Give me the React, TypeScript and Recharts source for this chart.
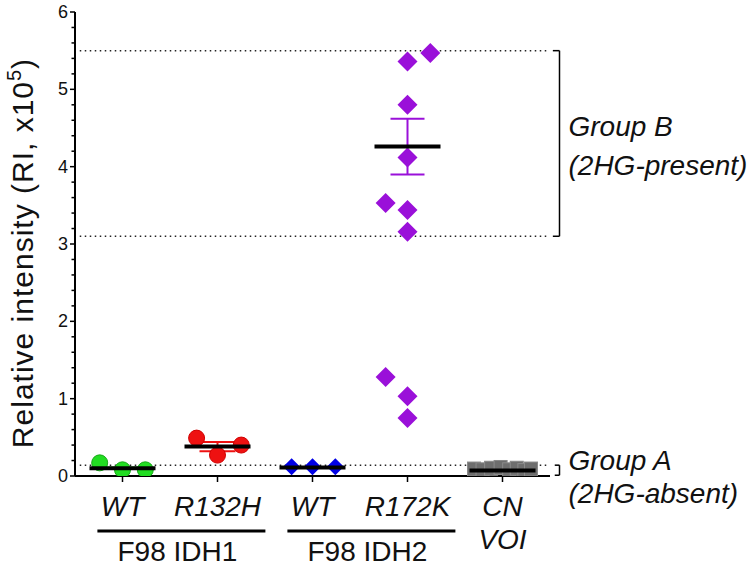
import { ScatterChart, Scatter, XAxis, YAxis, ReferenceLine, ErrorBar } from 'recharts'

const FONT = '"Liberation Sans", Arial, sans-serif'

// x categories (index = x position), "|" splits a label into two lines
const categories = ['WT', 'R132H', 'WT', 'R172K', 'CN|VOI']
const groupLabels = ['F98 IDH1', 'F98 IDH2']
const groupCenters = [0.62, 2.62]

const yTicks = [
  0, 0.2, 0.4, 0.6, 0.8, 1, 1.2, 1.4, 1.6, 1.8, 2, 2.2, 2.4, 2.6, 2.8, 3,
  3.2, 3.4, 3.6, 3.8, 4, 4.2, 4.4, 4.6, 4.8, 5, 5.2, 5.4, 5.6, 5.8, 6,
]
const yMajor = [0, 1, 2, 3, 4, 5, 6]

// measured intensities (x10^5) and horizontal scatter offsets
const wt1Values = [0.17, 0.08, 0.08]
const wt1Jitter = [-0.24, 0, 0.24]
const r132hValues = [0.49, 0.27, 0.4]
const r132hJitter = [-0.22, 0, 0.25]
const wt2Values = [0.12, 0.12, 0.12]
const wt2Jitter = [-0.22, 0, 0.24]
const r172kValues = [5.47, 5.36, 4.8, 4.12, 3.53, 3.44, 3.16, 1.28, 1.03, 0.75]
const r172kJitter = [0.24, 0, 0, 0, -0.23, 0, 0, -0.23, 0, 0]
const cnVoiValues = [0.09, 0.08, 0.1, 0.11, 0.08, 0.1, 0.07, 0.09]
const cnVoiJitter = [-0.3, -0.21, -0.12, -0.02, 0.07, 0.15, 0.23, 0.3]

const means = [0.1, 0.38, 0.11, 4.26, 0.07]
const sems = [0.01, 0.06, 0.005, 0.36, 0.01]

// group thresholds
const groupBTop = 5.5
const groupBBottom = 3.1
const groupATop = 0.14
const groupABottom = 0.01

const colors = ['#22dd22', '#ee1111', '#0000e6', '#9a10d9', '#6e6e6e']

const toPoints = (cat: number, values: number[], jitter: number[]) =>
  values.map((v, i) => ({ x: cat + jitter[i], y: v }))

const circleShape = (fill: string, stroke: string) => (p: any) => (
  <circle cx={p.cx} cy={p.cy} r={8} fill={fill} stroke={stroke} strokeWidth={1} />
)
const diamondShape = (fill: string, h: number) => (p: any) => (
  <polygon
    points={`${p.cx},${p.cy - h} ${p.cx + h},${p.cy} ${p.cx},${p.cy + h} ${p.cx - h},${p.cy}`}
    fill={fill}
  />
)
const squareShape = (fill: string) => (p: any) => (
  <rect x={p.cx - 6.5} y={p.cy - 7} width={13} height={14} fill={fill} stroke="#8a8a8a" strokeWidth={1} />
)
const meanShape = (p: any) => (
  <line x1={p.cx - 33} x2={p.cx + 33} y1={p.cy} y2={p.cy} stroke="#000" strokeWidth={4} />
)

const YTick = (props: any) => {
  const { x, y, payload } = props
  const major = yMajor.includes(payload.value)
  return (
    <g>
      <line x1={x - (major ? 5 : 3.5)} x2={x} y1={y} y2={y} stroke="#000" strokeWidth={1.5} />
      {major && (
        <text x={x - 7} y={y + 6} textAnchor="end" fontSize={18} fontFamily={FONT} fill="#111">
          {payload.value}
        </text>
      )}
    </g>
  )
}

const XTick = (props: any) => {
  const { x, y, payload } = props
  const lines = categories[payload.value].split('|')
  return (
    <g>
      <line x1={x} x2={x} y1={y} y2={y + 6} stroke="#000" strokeWidth={1.5} />
      {lines.map((t, i) => (
        <text
          key={i}
          x={x}
          y={y + 40 + i * 33}
          textAnchor="middle"
          fontSize={28}
          fontStyle="italic"
          fontFamily={FONT}
          fill="#111"
        >
          {t}
        </text>
      ))}
    </g>
  )
}

const GroupTick = (props: any) => {
  const { x, y, index } = props
  return (
    <g>
      <line x1={x - 84} x2={x + 84} y1={y + 15} y2={y + 15} stroke="#000" strokeWidth={3} />
      <text x={x - 4} y={y + 45} textAnchor="middle" fontSize={28} fontFamily={FONT} fill="#111">
        {groupLabels[index]}
      </text>
    </g>
  )
}

const yLabel = () => {
  const cx = 33
  const cy = 253
  return (
    <text
      x={cx}
      y={cy}
      transform={`rotate(-90, ${cx}, ${cy})`}
      textAnchor="middle"
      fontSize={30}
      letterSpacing={1}
      fontFamily={FONT}
      fill="#111"
    >
      <tspan>Relative intensity (RI, x10</tspan>
      <tspan dy={-12} fontSize={20}>5</tspan>
      <tspan dy={12}>)</tspan>
    </text>
  )
}

const groupText = (line1: string, line2: string, d1: number, d2: number) => (props: any) => {
  const vb = props.viewBox || { x: 560, y: 0 }
  return (
    <g fontFamily={FONT} fontSize={28} fontStyle="italic" fill="#111">
      <text x={vb.x + 9} y={vb.y + d1}>{line1}</text>
      <text x={vb.x + 9} y={vb.y + d2}>{line2}</text>
    </g>
  )
}

const dotted = { stroke: '#222', strokeWidth: 1.5, strokeDasharray: '1.5 3.5' }
const solid = { stroke: '#000', strokeWidth: 1.5 }

export default function App() {
  const series = [
    { data: toPoints(0, wt1Values, wt1Jitter), shape: circleShape(colors[0], '#18a818') },
    { data: toPoints(1, r132hValues, r132hJitter), shape: circleShape(colors[1], '#d00000') },
    { data: toPoints(2, wt2Values, wt2Jitter), shape: diamondShape(colors[2], 8.5) },
    { data: toPoints(3, r172kValues, r172kJitter), shape: diamondShape(colors[3], 10) },
    { data: toPoints(4, cnVoiValues, cnVoiJitter), shape: squareShape(colors[4]) },
  ]
  const capWidths = [18, 18, 18, 17, 18]

  return (
    <div style={{ width: 750, height: 566 }}>
      <style>{'body{margin:0}'}</style>
      <ScatterChart width={750} height={566} margin={{ top: 12, right: 200, bottom: 0, left: 15 }}>
        <XAxis
          type="number"
          dataKey="x"
          domain={[-0.5, 4.5]}
          allowDataOverflow
          ticks={[0, 1, 2, 3, 4]}
          interval={0}
          tick={<XTick />}
          tickLine={false}
          tickSize={0}
          tickMargin={0}
          height={40}
          axisLine={{ stroke: '#000', strokeWidth: 2 }}
        />
        <XAxis
          xAxisId="grp"
          type="number"
          dataKey="x"
          domain={[-0.5, 4.5]}
          allowDataOverflow
          ticks={groupCenters}
          interval={0}
          tick={<GroupTick />}
          tickLine={false}
          tickSize={0}
          tickMargin={0}
          axisLine={false}
          height={50}
        />
        <YAxis
          type="number"
          dataKey="y"
          domain={[0, 6]}
          allowDataOverflow
          ticks={yTicks}
          interval={0}
          tick={<YTick />}
          tickLine={false}
          tickSize={0}
          tickMargin={0}
          width={60}
          axisLine={{ stroke: '#000', strokeWidth: 2 }}
          label={{ content: yLabel }}
        />

        <ReferenceLine segment={[{ x: -0.45, y: groupBTop }, { x: 4.47, y: groupBTop }]} {...dotted} ifOverflow="visible" />
        <ReferenceLine segment={[{ x: -0.45, y: groupBBottom }, { x: 4.47, y: groupBBottom }]} {...dotted} ifOverflow="visible" />
        <ReferenceLine segment={[{ x: -0.45, y: groupATop }, { x: 4.47, y: groupATop }]} {...dotted} ifOverflow="visible" />

        <ReferenceLine segment={[{ x: 4.53, y: groupBTop }, { x: 4.6, y: groupBTop }]} {...solid} ifOverflow="visible" />
        <ReferenceLine segment={[{ x: 4.53, y: groupBBottom }, { x: 4.6, y: groupBBottom }]} {...solid} ifOverflow="visible" />
        <ReferenceLine
          segment={[{ x: 4.6, y: groupBTop }, { x: 4.6, y: groupBBottom }]}
          {...solid}
          ifOverflow="visible"
          label={{ content: groupText('Group B', '(2HG-present)', 85, 124) }}
        />
        <ReferenceLine segment={[{ x: 4.55, y: groupATop }, { x: 4.6, y: groupATop }]} {...solid} ifOverflow="visible" />
        <ReferenceLine segment={[{ x: 4.55, y: groupABottom }, { x: 4.6, y: groupABottom }]} {...solid} ifOverflow="visible" />
        <ReferenceLine
          segment={[{ x: 4.6, y: groupATop }, { x: 4.6, y: groupABottom }]}
          {...solid}
          ifOverflow="visible"
          label={{ content: groupText('Group A', '(2HG-absent)', 5, 38) }}
        />

        {series.map((s, i) => (
          <Scatter key={`pts${i}`} data={s.data} shape={s.shape} isAnimationActive={false} />
        ))}
        {means.map((m, i) => (
          <Scatter
            key={`mean${i}`}
            data={[{ x: i, y: m, err: sems[i] }]}
            shape={meanShape}
            isAnimationActive={false}
          >
            <ErrorBar dataKey="err" direction="y" width={capWidths[i]} stroke={colors[i]} strokeWidth={2} />
          </Scatter>
        ))}
      </ScatterChart>
    </div>
  )
}
